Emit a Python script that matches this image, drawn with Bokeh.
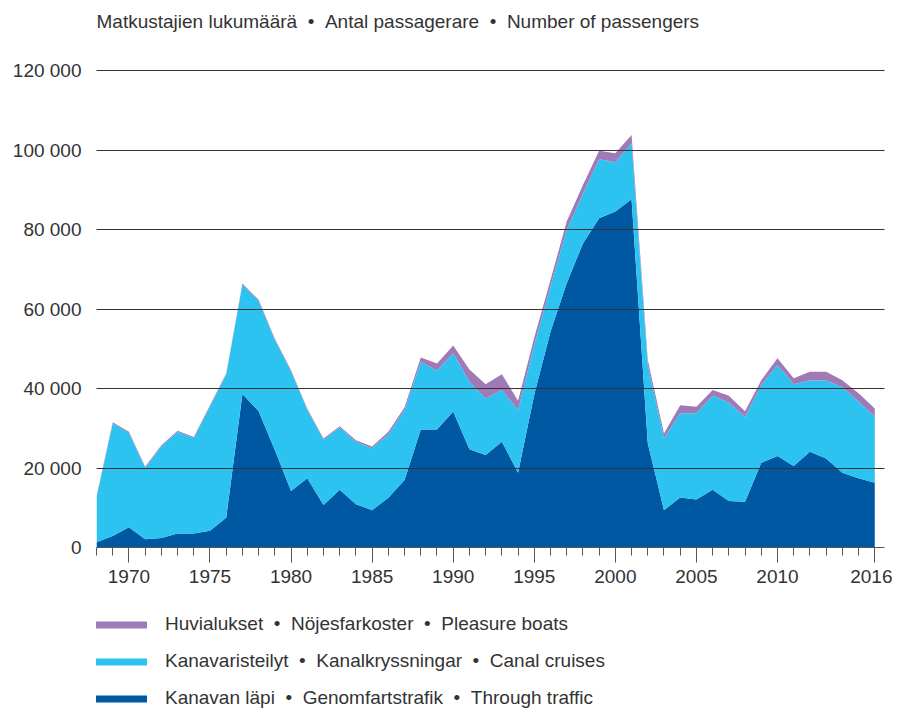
from bokeh.plotting import figure
from bokeh.models import ColumnDataSource, Range1d, FixedTicker, Legend, LegendItem, Label
from bokeh.layouts import column
from bokeh.embed import file_html
from bokeh.resources import INLINE

years = list(range(1968, 2017))
through = [1300, 2900, 5100, 2100, 2400, 3500, 3500, 4200, 7500, 38600,
           34300, 24500, 14200, 17400, 10700, 14500, 10900, 9400, 12500, 17000,
           29700, 29700, 34200, 24700, 23300, 26600, 18800, 38500, 54300, 66500,
           76500, 82800, 84500, 87600, 26200, 9400, 12600, 12100, 14500, 11700,
           11500, 21300, 23000, 20500, 24100, 22400, 18800, 17400, 16300]
cruises = [11200, 28300, 23700, 17900, 23000, 25600, 24000, 31300, 36000, 27500,
           27700, 27700, 30100, 17200, 16400, 15700, 15700, 15600, 16000, 17600,
           17000, 14800, 14700, 17000, 14200, 13000, 15800, 12500, 11300, 13400,
           12500, 14900, 12400, 14100, 19700, 18100, 21200, 21700, 23700, 24800,
           21300, 19600, 22900, 20600, 17900, 19600, 21500, 19300, 16600]
pleasure = [300, 300, 300, 300, 300, 300, 300, 300, 300, 300,
            300, 300, 300, 300, 300, 300, 400, 400, 600, 700,
            1100, 1800, 1900, 3100, 3600, 4000, 2300, 1800, 1700, 2100,
            2200, 2100, 2300, 2100, 1300, 1200, 2000, 1600, 1400, 1700,
            1500, 1200, 1700, 1500, 2200, 2200, 1800, 2100, 2100]

x_ticks = [1970, 1975, 1980, 1985, 1990, 1995, 2000, 2005, 2010, 2016]
y_ticks = [0, 20000, 40000, 60000, 80000, 100000, 120000]
y_tick_labels = ["0", "20 000", "40 000", "60 000", "80 000", "100 000", "120 000"]

SEP = "\u00a0\u00a0\u2022\u00a0\u00a0"
title_text = SEP.join(["Matkustajien lukumäärä", "Antal passagerare", "Number of passengers"])
series_labels = [
    SEP.join(["Huvialukset", "Nöjesfarkoster", "Pleasure boats"]),
    SEP.join(["Kanavaristeilyt", "Kanalkryssningar", "Canal cruises"]),
    SEP.join(["Kanavan läpi", "Genomfartstrafik", "Through traffic"]),
]
colors = {"through": "#0058A3", "cruises": "#2CC3F1", "pleasure": "#9F7AB6"}

FONT = "Liberation Sans"
TXT = "#333333"
W = 892

# ---- title strip (frame left edge is aligned with the chart's frame) ----
ft = figure(width=W, height=45, output_backend="svg", toolbar_location=None,
            x_range=Range1d(0, 1), y_range=Range1d(0, 1),
            x_axis_type=None, y_axis_type=None, min_border=0)
ft.outline_line_color = None
ft.add_layout(Label(x=0, y=24, x_units="screen", y_units="screen", text=title_text,
                    text_font=FONT, text_font_size="19px", text_color=TXT,
                    text_baseline="alphabetic", text_align="left"))

# ---- chart ----
source = ColumnDataSource(dict(year=years, through=through, cruises=cruises, pleasure=pleasure))

p = figure(width=W, height=555, output_backend="svg", toolbar_location=None,
           x_range=Range1d(1968, 2016.6), y_range=Range1d(0, 120252),
           min_border_left=96, min_border_right=8, min_border_top=24, min_border_bottom=53)
p.outline_line_color = None
p.background_fill_color = "white"

p.varea_stack(stackers=["through", "cruises", "pleasure"], x="year",
              color=[colors["through"], colors["cruises"], colors["pleasure"]],
              source=source)

p.xaxis.ticker = FixedTicker(ticks=x_ticks, minor_ticks=years)
p.xaxis.major_label_text_font = FONT
p.xaxis.major_label_text_font_size = "19px"
p.xaxis.major_label_text_color = TXT
p.xaxis.axis_line_color = "#555555"
p.xaxis.major_tick_line_color = "#555555"
p.xaxis.minor_tick_line_color = "#555555"
p.xaxis.major_tick_out = 15
p.xaxis.major_tick_in = 0
p.xaxis.minor_tick_out = 8
p.xaxis.minor_tick_in = 0
p.xaxis.major_label_standoff = 7

p.yaxis.ticker = FixedTicker(ticks=y_ticks)
p.yaxis.major_label_overrides = {t: lab for t, lab in zip(y_ticks, y_tick_labels)}
p.yaxis.major_label_text_font = FONT
p.yaxis.major_label_text_font_size = "19px"
p.yaxis.major_label_text_color = TXT
p.yaxis.axis_line_color = None
p.yaxis.major_tick_line_color = None
p.yaxis.minor_tick_line_color = None
p.yaxis.major_label_standoff = 9

p.xgrid.grid_line_color = None
p.ygrid.ticker = FixedTicker(ticks=y_ticks)
p.ygrid.grid_line_color = "#333333"
p.ygrid.grid_line_width = 1
p.ygrid.level = "overlay"

# ---- legend strip ----
fl = figure(width=W, height=108, output_backend="svg", toolbar_location=None,
            x_range=Range1d(0, 1), y_range=Range1d(0, 1),
            x_axis_type=None, y_axis_type=None, min_border=0)
fl.outline_line_color = None
nan = float("nan")
r_p = fl.line(x=[0], y=[nan], line_color=colors["pleasure"], line_width=7,
              line_cap="round", line_join="round")
r_c = fl.line(x=[0], y=[nan], line_color=colors["cruises"], line_width=7,
              line_cap="round", line_join="round")
r_t = fl.line(x=[0], y=[nan], line_color=colors["through"], line_width=7,
              line_cap="round", line_join="round")
legend = Legend(items=[LegendItem(label=series_labels[0], renderers=[r_p]),
                       LegendItem(label=series_labels[1], renderers=[r_c]),
                       LegendItem(label=series_labels[2], renderers=[r_t])],
                location=(0, -1), orientation="vertical",
                glyph_width=51, glyph_height=21, label_height=21, spacing=15,
                label_standoff=18, padding=0, margin=0,
                border_line_color=None, background_fill_alpha=0,
                label_text_font=FONT, label_text_font_size="19px", label_text_color=TXT)
fl.add_layout(legend, "center")

layout = column(ft, p, fl, spacing=0)
open("out.html", "w").write(file_html(layout, INLINE))
